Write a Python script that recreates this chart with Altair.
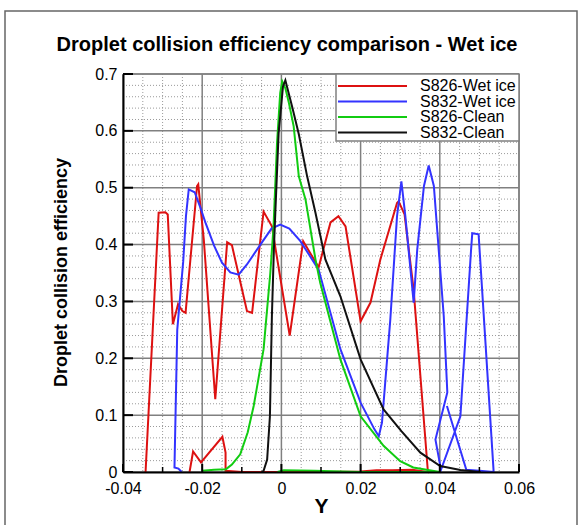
import altair as alt
import pandas as pd

W, H = 396, 398
FONT = "Liberation Sans"

series_names = ["S826-Wet ice", "S832-Wet ice", "S826-Clean", "S832-Clean"]
series_colors = ["#dd1111", "#3333ff", "#11cc11", "#111111"]

red_x = [-0.0343, -0.0310, -0.0293, -0.0287, -0.0274, -0.0261, -0.0250, -0.0242, -0.0213, -0.0210,
         -0.0196, -0.0167, -0.0137, -0.0125, -0.0087, -0.0074, -0.0045, -0.0024, 0.0021, 0.0055,
         0.0094, 0.0124, 0.0144, 0.0162, 0.0200, 0.0225, 0.0250, 0.0292, 0.0296, 0.0311,
         0.0334, 0.0370, 0.0330, 0.0280, 0.0240, 0.0200, 0.0100, 0.0000, -0.0100, -0.0141,
         -0.0141, -0.0149, -0.0203, -0.0223, -0.0232]
red_y = [0.000, 0.456, 0.457, 0.453, 0.260, 0.295, 0.283, 0.280, 0.503, 0.506,
         0.409, 0.128, 0.404, 0.399, 0.283, 0.280, 0.458, 0.432, 0.240, 0.406,
         0.360, 0.439, 0.450, 0.432, 0.265, 0.298, 0.374, 0.473, 0.476, 0.453,
         0.320, 0.000, 0.004, 0.003, 0.003, 0.001, 0.000, 0.000, 0.000, 0.002,
         0.034, 0.062, 0.017, 0.036, 0.000]

blue_x = [-0.0252, -0.0260, -0.0270, -0.0263, -0.0248, -0.0241, -0.0234, -0.0219, -0.0205, -0.0192,
          -0.0170, -0.0150, -0.0129, -0.0108, -0.0087, -0.0050, -0.0025, -0.0003, 0.0020, 0.0048,
          0.0094, 0.0149, 0.0200, 0.0235, 0.0246, 0.0254, 0.0275, 0.0292, 0.0303, 0.0313,
          0.0334, 0.0343, 0.0360, 0.0372, 0.0385, 0.0410, 0.0419, 0.0389, 0.0403, 0.0452,
          0.0479, 0.0482, 0.0498, 0.0536, 0.0500, 0.0467, 0.0418]
blue_y = [0.000, 0.006, 0.008, 0.250, 0.370, 0.450, 0.497, 0.492, 0.466, 0.439,
          0.398, 0.368, 0.351, 0.347, 0.365, 0.403, 0.428, 0.435, 0.428, 0.406,
          0.356, 0.216, 0.122, 0.075, 0.063, 0.087, 0.268, 0.450, 0.511, 0.450,
          0.298, 0.391, 0.503, 0.539, 0.503, 0.274, 0.140, 0.057, 0.004, 0.098,
          0.391, 0.420, 0.418, 0.000, 0.002, 0.004, 0.116]

green_x = [-0.0200, -0.0170, -0.0140, -0.0125, -0.0104, -0.0085, -0.0070, -0.0045, -0.0028, -0.0020,
           -0.0011, -0.0003, 0.0002, 0.0010, 0.0019, 0.0031, 0.0044, 0.0061, 0.0086, 0.0098,
           0.0149, 0.0200, 0.0258, 0.0300, 0.0333, 0.0400, 0.0200, 0.0082, 0.0006, -0.0010]
green_y = [0.002, 0.004, 0.005, 0.013, 0.031, 0.070, 0.116, 0.216, 0.350, 0.430,
           0.579, 0.667, 0.687, 0.675, 0.649, 0.608, 0.520, 0.479, 0.374, 0.333,
           0.198, 0.098, 0.046, 0.019, 0.008, 0.000, 0.000, 0.002, 0.003, 0.000]

black_x = [-0.0050, -0.0045, -0.0036, -0.0029, -0.0024, -0.0019, -0.0015, -0.0007, 0.0004, 0.0010,
           0.0027, 0.0044, 0.0065, 0.0086, 0.0111, 0.0149, 0.0200, 0.0258, 0.0303, 0.0351,
           0.0401, 0.0452, 0.0503]
black_y = [0.000, 0.002, 0.022, 0.098, 0.274, 0.391, 0.462, 0.596, 0.678, 0.689,
           0.643, 0.594, 0.520, 0.456, 0.374, 0.309, 0.198, 0.110, 0.072, 0.034,
           0.0105, 0.0035, 0.000]

x_major = [-0.04, -0.02, 0.0, 0.02, 0.04, 0.06]
x_minor = [-0.035, -0.03, -0.025, -0.015, -0.01, -0.005, 0.005, 0.01, 0.015,
           0.025, 0.03, 0.035, 0.045, 0.05, 0.055]
x_minor_ticks = [-0.03, -0.01, 0.01, 0.03, 0.05]
y_major = [0.0, 0.1, 0.2, 0.3, 0.4, 0.5, 0.6, 0.7]
y_minor = [0.02, 0.04, 0.06, 0.08, 0.12, 0.14, 0.16, 0.18, 0.22, 0.24, 0.26, 0.28,
           0.32, 0.34, 0.36, 0.38, 0.42, 0.44, 0.46, 0.48, 0.52, 0.54, 0.56, 0.58,
           0.62, 0.64, 0.66, 0.68]

title_text = "Droplet collision efficiency comparison - Wet ice"
x_title = "Y"
y_title = "Droplet collision efficiency"

rows = []
for name, xs, ys in zip(series_names, [red_x, blue_x, green_x, black_x],
                        [red_y, blue_y, green_y, black_y]):
    for i, (a, b) in enumerate(zip(xs, ys)):
        rows.append({"series": name, "x": a, "y": b, "i": i})
df = pd.DataFrame(rows)

xscale = alt.Scale(domain=[-0.04, 0.06], nice=False, zero=False)
yscale = alt.Scale(domain=[0, 0.7], nice=False, zero=False)
cscale = alt.Scale(domain=series_names, range=series_colors)

one = pd.DataFrame({"a": [0]})

frame = alt.Chart(one).mark_rect(fillOpacity=0, stroke="#666666", strokeWidth=1.5).encode(
    x=alt.value(-118), x2=alt.value(454), y=alt.value(-63), y2=alt.value(470))

gx_minor = alt.Chart(pd.DataFrame({"v": x_minor})).mark_rule(
    color="#9a9a9a", strokeWidth=1, strokeDash=[1, 2]).encode(
    x=alt.X("v:Q", scale=xscale, axis=None), y=alt.value(0), y2=alt.value(H))
gy_minor = alt.Chart(pd.DataFrame({"v": y_minor})).mark_rule(
    color="#9a9a9a", strokeWidth=1, strokeDash=[1, 2]).encode(
    y=alt.Y("v:Q", scale=yscale, axis=None), x=alt.value(0), x2=alt.value(W))
gx_major = alt.Chart(pd.DataFrame({"v": x_major})).mark_rule(
    color="#808080", strokeWidth=1.5).encode(
    x=alt.X("v:Q", scale=xscale, axis=None), y=alt.value(0), y2=alt.value(H))
gy_major = alt.Chart(pd.DataFrame({"v": y_major})).mark_rule(
    color="#808080", strokeWidth=1.5).encode(
    y=alt.Y("v:Q", scale=yscale, axis=None), x=alt.value(0), x2=alt.value(W))
top_edge = alt.Chart(one).mark_rule(color="#808080", strokeWidth=1.5).encode(
    x=alt.value(0), x2=alt.value(W), y=alt.value(0))
right_edge = alt.Chart(one).mark_rule(color="#808080", strokeWidth=1.5).encode(
    x=alt.value(W), y=alt.value(0), y2=alt.value(H))

lines = alt.Chart(df).mark_line(strokeWidth=2).encode(
    x=alt.X("x:Q", scale=xscale, axis=alt.Axis(
        values=x_major, ticks=False, tickSize=0, grid=False, domainColor="black", domainWidth=2,
        labelExpr="datum.value == 0 ? '0' : (datum.value < 0 ? '-' : '') + format(abs(datum.value), '.2f')",
        labelFont=FONT, labelFontSize=16, labelColor="black", labelPadding=8, labelFlush=False,
        title=x_title, titleFont=FONT, titleFontSize=21, titleFontWeight="bold", titleColor="black",
        titleBaseline="alphabetic", titleY=40, zindex=1)),
    y=alt.Y("y:Q", scale=yscale, axis=alt.Axis(
        values=y_major, ticks=False, tickSize=0, grid=False, domainColor="black", domainWidth=2,
        labelExpr="datum.value == 0 ? '0' : format(datum.value, '.1f')",
        labelFont=FONT, labelFontSize=16, labelColor="black", labelPadding=6, labelFlush=False,
        title=y_title, titleFont=FONT, titleFontSize=18, titleFontWeight="bold", titleColor="black",
        titleAngle=270, titleAlign="center", titleBaseline="alphabetic", titleX=-57, titleY=198,
        zindex=1)),
    color=alt.Color("series:N", scale=cscale, legend=None),
    order=alt.Order("i:Q"),
)

tx_major = alt.Chart(pd.DataFrame({"v": x_major})).mark_rule(color="black", strokeWidth=2).encode(
    x=alt.X("v:Q", scale=xscale, axis=None), y=alt.value(H), y2=alt.value(H - 8))
tx_minor = alt.Chart(pd.DataFrame({"v": x_minor_ticks})).mark_rule(color="black", strokeWidth=1.5).encode(
    x=alt.X("v:Q", scale=xscale, axis=None), y=alt.value(H), y2=alt.value(H - 5))
ty_major = alt.Chart(pd.DataFrame({"v": y_major})).mark_rule(color="black", strokeWidth=2).encode(
    y=alt.Y("v:Q", scale=yscale, axis=None), x=alt.value(0), x2=alt.value(10))

legend_box = alt.Chart(one).mark_rect(fill="white", stroke="#808080", strokeWidth=1.5).encode(
    x=alt.value(213), x2=alt.value(W), y=alt.value(0), y2=alt.value(67))
legend_layers = [legend_box]
for k, (name, col) in enumerate(zip(series_names, series_colors)):
    yy = 12 + k * 15.5
    legend_layers.append(alt.Chart(one).mark_rule(color=col, strokeWidth=2).encode(
        x=alt.value(215), x2=alt.value(284), y=alt.value(yy)))
    legend_layers.append(alt.Chart(one).mark_text(
        align="left", baseline="middle", font=FONT, fontSize=16, color="black").encode(
        x=alt.value(297), y=alt.value(yy), text=alt.value(name)))

title = alt.Chart(one).mark_text(
    align="center", baseline="alphabetic", font=FONT, fontSize=20, fontWeight="bold",
    color="black").encode(x=alt.value(164), y=alt.value(-23), text=alt.value(title_text))

chart = alt.layer(
    frame, gx_minor, gy_minor, gx_major, gy_major, top_edge, right_edge,
    lines, tx_major, tx_minor, ty_major, *legend_layers, title
).resolve_axis(
    x="independent", y="independent"
).properties(
    width=W, height=H,
    autosize=alt.AutoSizeParams(type="none"),
    padding={"left": 123, "top": 74, "right": 63, "bottom": 53},
    background="white",
).configure_view(strokeWidth=0)

chart.save("out.html", embed_options={"renderer": "svg", "actions": False})
